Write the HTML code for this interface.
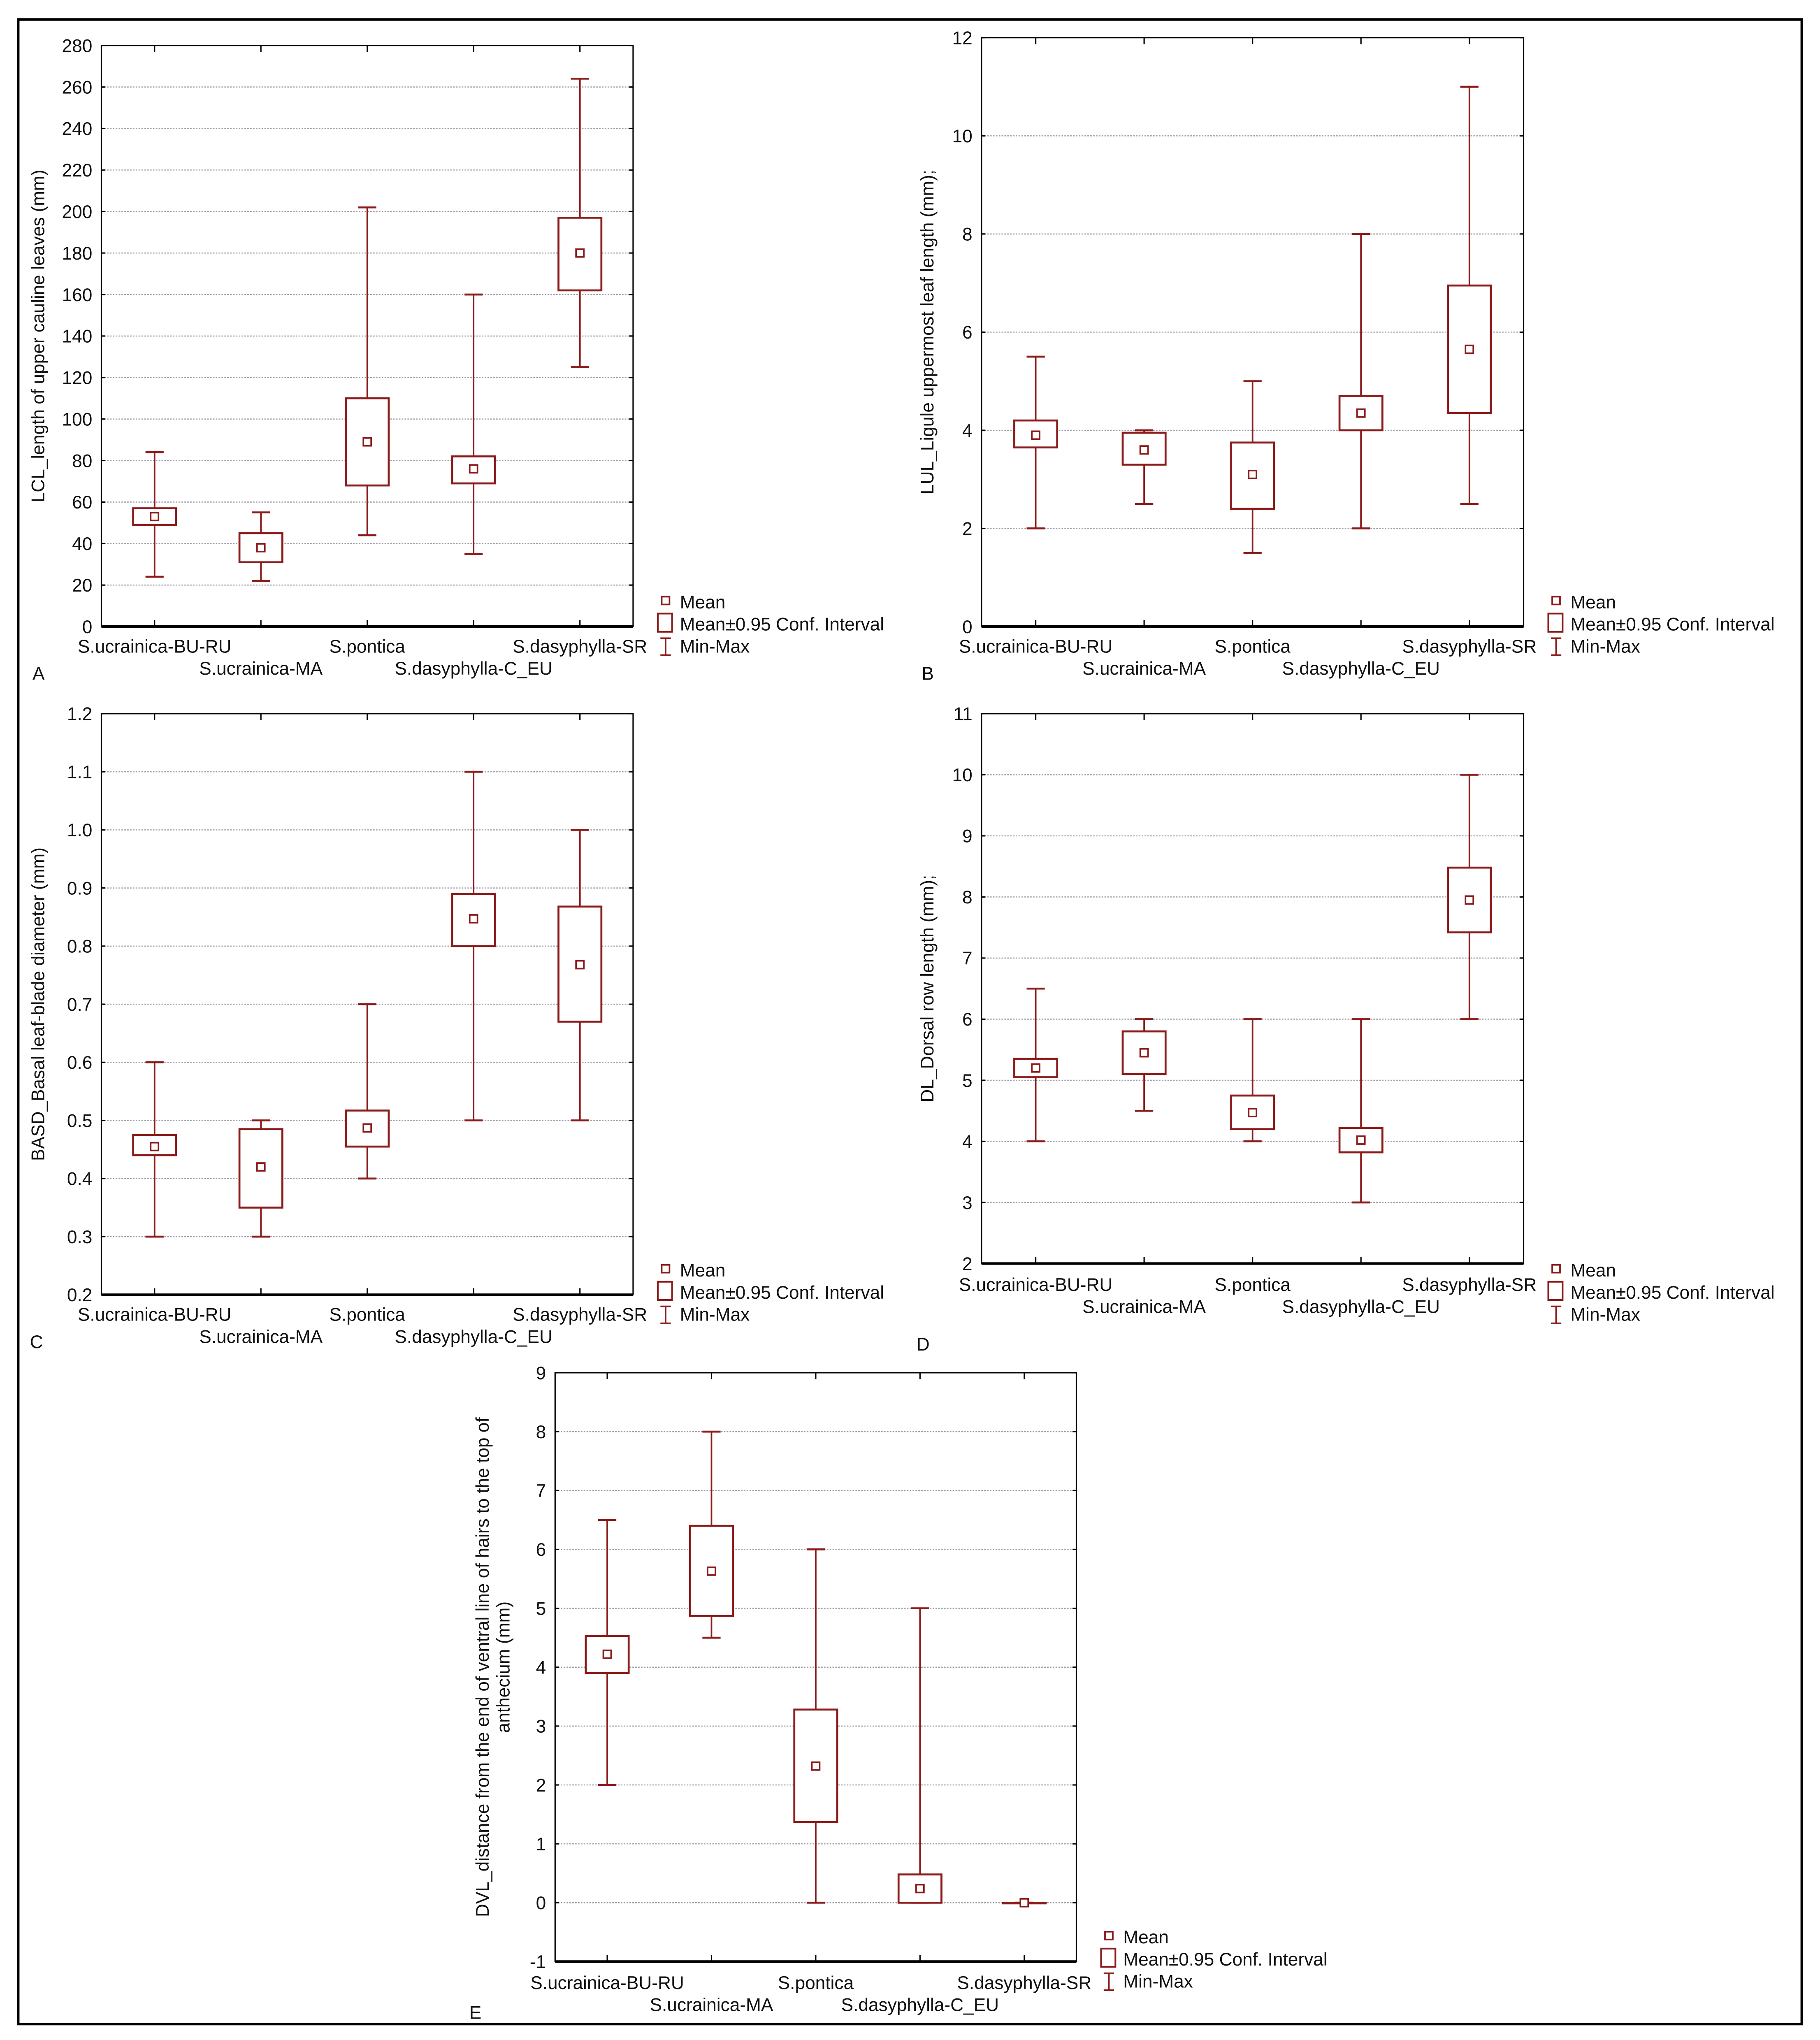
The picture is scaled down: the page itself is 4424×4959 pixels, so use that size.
<!DOCTYPE html>
<html><head><meta charset="utf-8"><style>
html,body{margin:0;padding:0;background:#fff;}
svg{display:block;}
text{font-family:"Liberation Sans",Arial,sans-serif;fill:#111;}
</style></head><body>
<svg id="chart" xmlns="http://www.w3.org/2000/svg" width="4424" height="4959" viewBox="0 0 1400 1569.3" preserveAspectRatio="none">
<rect x="14" y="15" width="1372" height="1542" fill="none" stroke="#000" stroke-width="2"/>
</svg>
<script>
const categories = ["S.ucrainica-BU-RU","S.ucrainica-MA","S.pontica","S.dasyphylla-C_EU","S.dasyphylla-SR"];
// each row: min, lowerCI, mean, upperCI, max
const dataA = [[24,49,53,57,84],[22,31,38,45,55],[44,68,89,110,202],[35,69,76,82,160],[125,162,180,197,264]];
const dataB = [[2,3.65,3.9,4.2,5.5],[2.5,3.3,3.6,3.95,4.0],[1.5,2.4,3.1,3.75,5],[2,4.0,4.35,4.7,8],[2.5,4.35,5.65,6.95,11]];
const dataC = [[0.3,0.44,0.455,0.475,0.6],[0.3,0.35,0.42,0.485,0.5],[0.4,0.455,0.487,0.517,0.7],[0.5,0.8,0.847,0.89,1.1],[0.5,0.67,0.768,0.868,1.0]];
const dataD = [[4,5.05,5.2,5.35,6.5],[4.5,5.1,5.45,5.8,6],[4,4.2,4.47,4.75,6],[3,3.82,4.02,4.22,6],[6,7.42,7.95,8.48,10]];
const dataE = [[2,3.9,4.22,4.53,6.5],[4.5,4.87,5.63,6.4,8],[0,1.37,2.32,3.28,6],[0,0,0.24,0.48,5],[0,0,0,0,0]];
const ticksA = [0,20,40,60,80,100,120,140,160,180,200,220,240,260,280];
const ticksB = [0,2,4,6,8,10,12];
const ticksC = ["0.2","0.3","0.4","0.5","0.6","0.7","0.8","0.9","1.0","1.1","1.2"];
const ticksD = [2,3,4,5,6,7,8,9,10,11];
const ticksE = [-1,0,1,2,3,4,5,6,7,8,9];
const titles = ["LCL_length of upper cauline leaves (mm)","LUL_Ligule uppermost leaf length (mm);","BASD_Basal leaf-blade diameter (mm)","DL_Dorsal row length (mm);","DVL_distance from the end of ventral line of hairs to the top of|anthecium (mm)"];

const NS="http://www.w3.org/2000/svg";
const svg=document.getElementById('chart');
const RED="#8b1a1a";
const FS=14;
function mk(tag,attrs,parent){const e=document.createElementNS(NS,tag);for(const k in attrs)e.setAttribute(k,attrs[k]);(parent||svg).appendChild(e);return e;}

function panel(id,box,data,ticks,title,letter,tx,legY,labOff){
  const g=mk('g',{});
  
  
  const {x0,x1,y0,y1}=box;
  const tv=ticks.map(Number);
  const vmin=tv[0],vmax=tv[tv.length-1];
  const Y=v=>y1-(v-vmin)/(vmax-vmin)*(y1-y0);
  const step=(x1-x0)/categories.length;
  const X=i=>x0+step*(i+0.5);
  ticks.forEach((t,i)=>{
    const y=Y(Number(t));
    if(i>0&&i<ticks.length-1){
      const gl=mk('line',{x1:x0,x2:x1,y1:y,y2:y,stroke:'#9a9aa8','stroke-width':0.8,'stroke-dasharray':'1.2 1'},g);
      
      
    }
    mk('line',{x1:x0,x2:x0+3,y1:y,y2:y,stroke:'#000','stroke-width':1},g);
    mk('line',{x1:x1-3,x2:x1,y1:y,y2:y,stroke:'#000','stroke-width':1},g);
    const tl=mk('text',{x:x0-7,y:y+5,'font-size':FS,'text-anchor':'end'},g);
    tl.textContent=t;
    
    
  });
  const fr=mk('rect',{x:x0,y:y0,width:x1-x0,height:y1-y0,fill:'none',stroke:'#000','stroke-width':1},g);
  
  
  mk('line',{x1:x0,x2:x1,y1:y1,y2:y1,stroke:'#000','stroke-width':2},g);
  categories.forEach((c,i)=>{
    const x=X(i);
    mk('line',{x1:x,x2:x,y1:y1,y2:y1-5,stroke:'#000','stroke-width':1},g);
    mk('line',{x1:x,x2:x,y1:y0,y2:y0+5,stroke:'#000','stroke-width':1},g);
    const lb=mk('text',{x:x,y:y1+labOff+(i%2?17:0),'font-size':FS,'text-anchor':'middle'},g);
    lb.textContent=c;
    
    
  });
  data.forEach((d,i)=>{
    const x=X(i);
    const bg=mk('g',{},g);
    
    
    mk('line',{x1:x,x2:x,y1:Y(d[0]),y2:Y(d[4]),stroke:RED,'stroke-width':1.2},bg);
    mk('line',{x1:x-7,x2:x+7,y1:Y(d[0]),y2:Y(d[0]),stroke:RED,'stroke-width':1.5},bg);
    mk('line',{x1:x-7,x2:x+7,y1:Y(d[4]),y2:Y(d[4]),stroke:RED,'stroke-width':1.5},bg);
    mk('rect',{x:x-16.5,y:Y(d[3]),width:33,height:Math.max(0.5,Y(d[1])-Y(d[3])),fill:'#fff',stroke:RED,'stroke-width':1.5},bg);
    mk('rect',{x:x-3,y:Y(d[2])-3,width:6,height:6,fill:'#fff',stroke:RED,'stroke-width':1.2},bg);
  });
  const cy=(y0+y1)/2;
  const parts=title.split('|');
  const t=mk('text',{transform:`translate(${tx},${cy}) rotate(-90)`,'font-size':FS,'text-anchor':'middle'},g);
  
  
  parts.forEach((p,k)=>{const s=mk('tspan',{x:0,dy:k?16:0},t);s.textContent=p;});
  const lx=x1+21, ly=legY;
  const lg=mk('g',{},g);
  
  
  mk('rect',{x:lx+1,y:ly-5,width:6,height:6,fill:'#fff',stroke:RED,'stroke-width':1.2},lg);
  let tt=mk('text',{x:lx+15,y:ly+4,'font-size':FS},lg);tt.textContent='Mean';
  mk('rect',{x:lx-2,y:ly+8,width:11,height:14,fill:'#fff',stroke:RED,'stroke-width':1.3},lg);
  tt=mk('text',{x:lx+15,y:ly+21,'font-size':FS},lg);tt.textContent='Mean±0.95 Conf. Interval';
  mk('line',{x1:lx+4,x2:lx+4,y1:ly+27,y2:ly+40,stroke:RED,'stroke-width':1.2},lg);
  mk('line',{x1:lx,x2:lx+8,y1:ly+27,y2:ly+27,stroke:RED,'stroke-width':1.3},lg);
  mk('line',{x1:lx,x2:lx+8,y1:ly+40,y2:ly+40,stroke:RED,'stroke-width':1.3},lg);
  tt=mk('text',{x:lx+15,y:ly+38,'font-size':FS},lg);tt.textContent='Min-Max';
  const pl=mk('text',{x:letter[0],y:letter[1],'font-size':FS},g);
  pl.textContent=id;
  
  
}
panel('A',{x0:78,x1:487,y0:35,y1:482},dataA,ticksA,titles[0],[25,523],34,464,20);
panel('B',{x0:755,x1:1172,y0:29,y1:482},dataB,ticksB,titles[1],[709,523],718,464,20);
panel('C',{x0:78,x1:487,y0:549,y1:996},dataC,ticksC,titles[2],[23,1037],34,978,20);
panel('D',{x0:755,x1:1172,y0:549,y1:972},dataD,ticksD,titles[3],[705,1039],718,978,21);
panel('E',{x0:427,x1:828,y0:1056,y1:1509},dataE,ticksE,titles[4],[361,1553],376,1491,21);
</script>
</body></html>
